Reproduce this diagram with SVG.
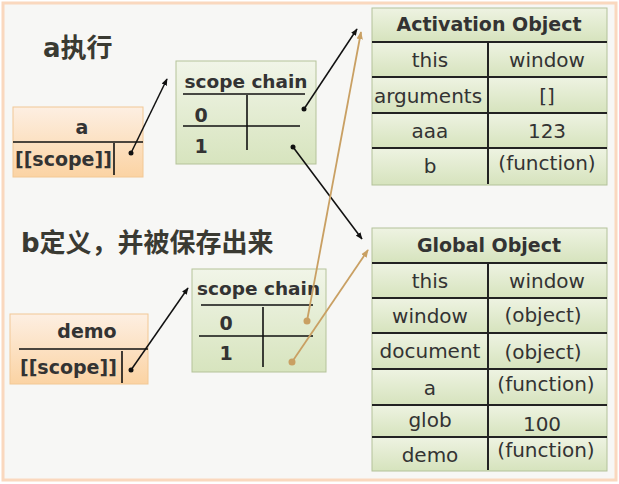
<svg xmlns="http://www.w3.org/2000/svg" width="619" height="484" viewBox="0 0 619 484">
<defs>
<linearGradient id="peach" x1="0" y1="0" x2="0" y2="1"><stop offset="0" stop-color="#fdefe2"/><stop offset="1" stop-color="#fbd3a3"/></linearGradient>
<linearGradient id="green" x1="0" y1="0" x2="0" y2="1"><stop offset="0" stop-color="#f1f5e8"/><stop offset="1" stop-color="#d7e4be"/></linearGradient>
<linearGradient id="row" x1="0" y1="0" x2="0" y2="1"><stop offset="0" stop-color="#eef3e2"/><stop offset="1" stop-color="#d6e3bd"/></linearGradient>
<marker id="ab" viewBox="0 0 10 10" refX="9" refY="5" markerWidth="7" markerHeight="7" markerUnits="userSpaceOnUse" orient="auto"><path d="M0,1 L10,5 L0,9 z" fill="#111"/></marker>
<marker id="at" viewBox="0 0 10 10" refX="9" refY="5" markerWidth="8" markerHeight="8" markerUnits="userSpaceOnUse" orient="auto"><path d="M0,1 L10,5 L0,9 z" fill="#c9a063"/></marker>
</defs>
<style>
text{font-family:"DejaVu Sans","Noto Sans CJK SC",sans-serif;fill:#333;}
.t{font-size:20px;text-anchor:middle;}
.h{font-size:19px;font-weight:bold;text-anchor:middle;}
.b{font-weight:bold;}
.title{font-size:26px;font-weight:bold;fill:#3a3a32;}
.sep{stroke:#222;stroke-width:2;}
.ln{stroke:#111;stroke-width:1.6;}
.tbl{stroke:#b3c29a;stroke-width:1;}
.pbox{fill:url(#peach);stroke:#f2c895;stroke-width:1;}
.gbox{fill:url(#green);stroke:#b5c39a;stroke-width:1;}
.rowf{fill:url(#row);}
.blk{stroke:#111;stroke-width:1.5;fill:none;marker-end:url(#ab);}
.tan{stroke:#c9a063;stroke-width:1.8;fill:none;marker-end:url(#at);}
</style>
<rect x="3" y="3" width="613" height="477" fill="#f7f7f5" stroke="#fad8be" stroke-width="3"/>
<text class="title" x="43" y="57">a执行</text>
<text class="title" x="21" y="252">b定义，并被保存出来</text>

<g id="box-a">
<rect class="pbox" x="13" y="107" width="130" height="70"/>
<line class="ln" x1="13" y1="142" x2="143" y2="142"/>
<text class="b" x="82" y="134" font-size="19" text-anchor="middle">a</text>
<text class="b" x="15" y="166" font-size="19">[[scope]]</text>
<line class="ln" x1="114" y1="143" x2="114" y2="175"/>
</g>

<g id="scope1">
<rect class="gbox" x="176" y="61" width="140" height="103"/>
<text class="b" x="246" y="88" font-size="18.5" text-anchor="middle">scope chain</text>
<line class="ln" x1="183" y1="94" x2="305" y2="94"/>
<line class="ln" x1="247" y1="95" x2="247" y2="150"/>
<line class="ln" x1="183" y1="126" x2="300" y2="126"/>
<text class="b" x="201" y="122" font-size="19" text-anchor="middle">0</text>
<text class="b" x="201" y="153" font-size="19" text-anchor="middle">1</text>
</g>

<g id="box-demo">
<rect class="pbox" x="10" y="314" width="138" height="70"/>
<line class="ln" x1="19" y1="349" x2="148" y2="349"/>
<text class="b" x="87" y="338" font-size="19" text-anchor="middle">demo</text>
<text class="b" x="20" y="374" font-size="19">[[scope]]</text>
<line class="ln" x1="122" y1="351" x2="122" y2="383"/>
</g>

<g id="scope2">
<rect class="gbox" x="192" y="269" width="134" height="103"/>
<text class="b" x="197" y="295" font-size="18.5">scope chain</text>
<line class="ln" x1="201" y1="305" x2="313" y2="305"/>
<line class="ln" x1="263" y1="307" x2="263" y2="367"/>
<line class="ln" x1="199" y1="336" x2="313" y2="336"/>
<text class="b" x="226" y="330" font-size="19" text-anchor="middle">0</text>
<text class="b" x="226" y="360" font-size="19" text-anchor="middle">1</text>
</g>

<g id="activation-object">
<rect class="rowf" x="372" y="8" width="235" height="34"/>
<rect class="rowf" x="372" y="42" width="235" height="35"/>
<rect class="rowf" x="372" y="77" width="235" height="36"/>
<rect class="rowf" x="372" y="113" width="235" height="35"/>
<rect class="rowf" x="372" y="148" width="235" height="37"/>
<rect class="tbl" x="372" y="8" width="235" height="177" fill="none"/>
<line class="sep" x1="372" y1="42" x2="607" y2="42"/>
<line class="sep" x1="372" y1="77" x2="607" y2="77"/>
<line class="sep" x1="372" y1="113" x2="607" y2="113"/>
<line class="sep" x1="372" y1="148" x2="607" y2="148"/>
<line class="sep" x1="488" y1="43" x2="488" y2="184"/>
<text class="h" x="489" y="31">Activation Object</text>
<text class="t" x="430" y="67">this</text><text class="t" x="547" y="67">window</text>
<text class="t" x="428" y="103">arguments</text><text class="t" x="547" y="103">[]</text>
<text class="t" x="430" y="138">aaa</text><text class="t" x="547" y="138">123</text>
<text class="t" x="430" y="173">b</text><text class="t" x="547" y="170">(function)</text>
</g>

<g id="global-object">
<rect class="rowf" x="372" y="228" width="235" height="35"/>
<rect class="rowf" x="372" y="263" width="235" height="35"/>
<rect class="rowf" x="372" y="298" width="235" height="35"/>
<rect class="rowf" x="372" y="333" width="235" height="36"/>
<rect class="rowf" x="372" y="369" width="235" height="36"/>
<rect class="rowf" x="372" y="405" width="235" height="32"/>
<rect class="rowf" x="372" y="437" width="235" height="34"/>
<rect class="tbl" x="372" y="228" width="235" height="243" fill="none"/>
<line class="sep" x1="372" y1="263" x2="607" y2="263"/>
<line class="sep" x1="372" y1="298" x2="607" y2="298"/>
<line class="sep" x1="372" y1="333" x2="607" y2="333"/>
<line class="sep" x1="372" y1="369" x2="607" y2="369"/>
<line class="sep" x1="372" y1="405" x2="607" y2="405"/>
<line class="sep" x1="372" y1="437" x2="607" y2="437"/>
<line class="sep" x1="488" y1="264" x2="488" y2="470"/>
<text class="h" x="489" y="252">Global Object</text>
<text class="t" x="430" y="288">this</text><text class="t" x="547" y="288">window</text>
<text class="t" x="430" y="323">window</text><text class="t" x="543" y="322">(object)</text>
<text class="t" x="430" y="358">document</text><text class="t" x="543" y="359">(object)</text>
<text class="t" x="430" y="395">a</text><text class="t" x="546" y="391">(function)</text>
<text class="t" x="430" y="427">glob</text><text class="t" x="542" y="431">100</text>
<text class="t" x="430" y="462">demo</text><text class="t" x="546" y="457">(function)</text>
</g>

<g id="connectors">
<circle cx="131" cy="153" r="2.5" fill="#111"/>
<line class="blk" x1="131" y1="153" x2="167" y2="79"/>
<circle cx="304" cy="109" r="2.5" fill="#111"/>
<line class="blk" x1="304" y1="109" x2="357" y2="29"/>
<circle cx="293" cy="147" r="2.5" fill="#111"/>
<line class="blk" x1="293" y1="147" x2="362" y2="239"/>
<circle cx="131" cy="370" r="2.5" fill="#111"/>
<line class="blk" x1="131" y1="370" x2="188" y2="288"/>
<circle cx="307" cy="321" r="3.5" fill="#c9a063"/>
<line class="tan" x1="307" y1="321" x2="361" y2="32"/>
<circle cx="292" cy="362" r="3.5" fill="#c9a063"/>
<line class="tan" x1="292" y1="362" x2="368" y2="250"/>
</g>
</svg>
